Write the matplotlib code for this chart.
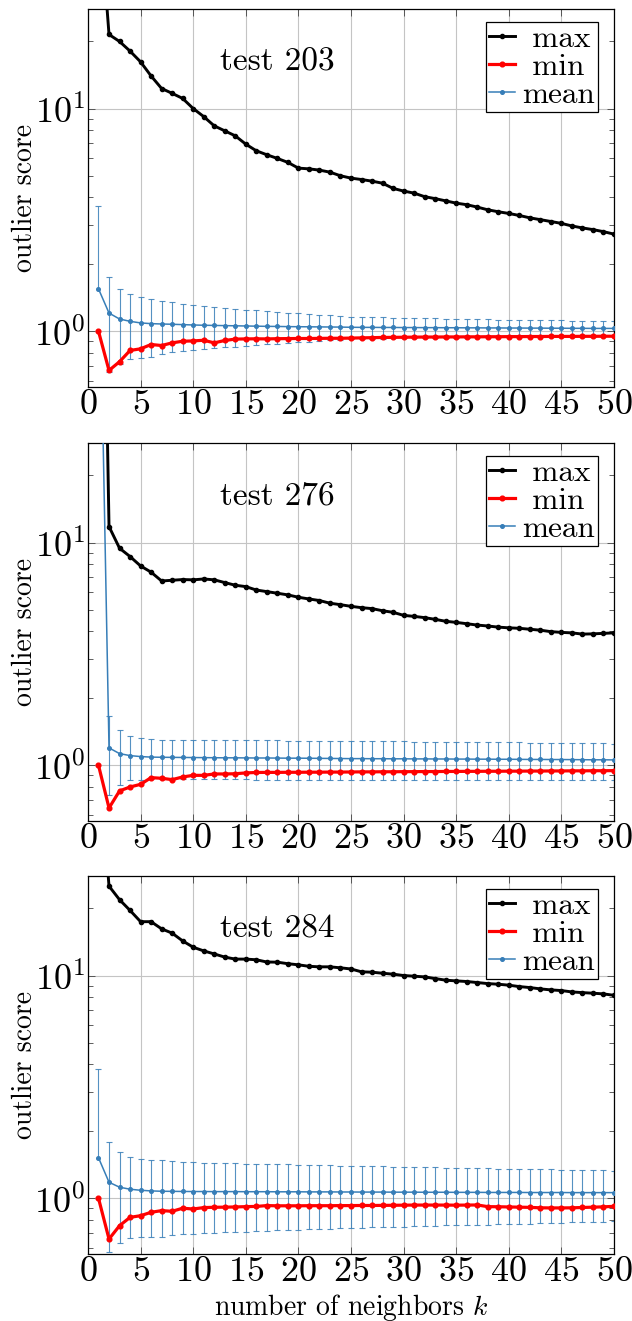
import numpy as np
import matplotlib
matplotlib.use('Agg')
import matplotlib.pyplot as plt
from matplotlib.ticker import MultipleLocator, NullFormatter
from matplotlib.lines import Line2D

plt.rcParams['font.family'] = ['cmr10', 'DejaVu Serif']
plt.rcParams['mathtext.fontset'] = 'cm'
plt.rcParams['axes.formatter.use_mathtext'] = True

# numero de vecinos k
k = np.arange(1, 51)
titulos = ['test 203', 'test 276', 'test 284']

# test 203
max_203 = [90, 21.5, 20.0, 18.1, 16.2, 14.0, 12.3, 11.7, 11.1, 10.0,
           9.2, 8.36, 7.94, 7.54, 6.92, 6.46, 6.2, 5.97, 5.73, 5.40,
           5.36, 5.29, 5.18, 4.99, 4.87, 4.80, 4.72, 4.62, 4.38, 4.26,
           4.17, 4.02, 3.94, 3.85, 3.76, 3.70, 3.61, 3.51, 3.44, 3.38,
           3.31, 3.23, 3.17, 3.11, 3.05, 2.97, 2.91, 2.86, 2.80, 2.73]
min_203 = [1.0, 0.667, 0.730, 0.820, 0.834, 0.872, 0.863, 0.887, 0.902, 0.905,
           0.911, 0.887, 0.909, 0.922, 0.924, 0.925, 0.924, 0.926, 0.927, 0.928,
           0.928, 0.929, 0.930, 0.930, 0.932, 0.934, 0.936, 0.938, 0.939, 0.940,
           0.941, 0.942, 0.942, 0.943, 0.943, 0.944, 0.944, 0.945, 0.945, 0.946,
           0.946, 0.947, 0.947, 0.948, 0.948, 0.948, 0.949, 0.949, 0.950, 0.950]
mean_203 = [1.55, 1.207, 1.135, 1.108, 1.09, 1.082, 1.078, 1.075, 1.071, 1.067,
            1.064, 1.062, 1.060, 1.058, 1.056, 1.054, 1.052, 1.051, 1.049, 1.048,
            1.047, 1.046, 1.045, 1.044, 1.042, 1.041, 1.041, 1.040, 1.040, 1.039,
            1.039, 1.038, 1.038, 1.037, 1.037, 1.036, 1.036, 1.035, 1.035, 1.034,
            1.034, 1.033, 1.033, 1.032, 1.032, 1.031, 1.031, 1.030, 1.030, 1.030]
std_203 = [2.09, 0.553, 0.42, 0.36, 0.33, 0.317, 0.288, 0.272, 0.258, 0.244,
           0.235, 0.225, 0.214, 0.204, 0.196, 0.186, 0.176, 0.170, 0.163, 0.155,
           0.149, 0.142, 0.135, 0.128, 0.121, 0.117, 0.115, 0.113, 0.111, 0.109,
           0.107, 0.105, 0.104, 0.102, 0.100, 0.099, 0.097, 0.096, 0.094, 0.093,
           0.092, 0.090, 0.089, 0.088, 0.087, 0.085, 0.084, 0.083, 0.082, 0.081]

# test 276
max_276 = [5000, 11.8, 9.43, 8.65, 7.85, 7.36, 6.72, 6.77, 6.82, 6.80,
           6.86, 6.80, 6.61, 6.43, 6.34, 6.12, 6.02, 5.92, 5.82, 5.68,
           5.58, 5.49, 5.34, 5.26, 5.17, 5.10, 5.05, 4.94, 4.86, 4.71,
           4.66, 4.60, 4.52, 4.43, 4.38, 4.32, 4.26, 4.22, 4.17, 4.14,
           4.12, 4.08, 4.04, 3.98, 3.95, 3.93, 3.88, 3.89, 3.91, 3.93]
min_276 = [1.0, 0.643, 0.767, 0.799, 0.821, 0.880, 0.874, 0.862, 0.886, 0.901,
           0.901, 0.914, 0.914, 0.916, 0.924, 0.928, 0.929, 0.929, 0.930, 0.930,
           0.931, 0.931, 0.932, 0.932, 0.933, 0.934, 0.934, 0.935, 0.935, 0.936,
           0.936, 0.937, 0.937, 0.938, 0.938, 0.939, 0.939, 0.940, 0.940, 0.941,
           0.941, 0.942, 0.942, 0.943, 0.943, 0.944, 0.944, 0.945, 0.945, 0.946]
mean_276 = [350, 1.197, 1.128, 1.105, 1.094, 1.088, 1.086, 1.085, 1.084, 1.083,
            1.082, 1.081, 1.080, 1.080, 1.079, 1.078, 1.078, 1.077, 1.076, 1.076,
            1.075, 1.074, 1.073, 1.072, 1.071, 1.071, 1.070, 1.070, 1.069, 1.069,
            1.068, 1.068, 1.067, 1.067, 1.066, 1.066, 1.065, 1.065, 1.064, 1.064,
            1.063, 1.062, 1.062, 1.061, 1.061, 1.060, 1.059, 1.058, 1.058, 1.057]
std_276 = [900, 0.464, 0.309, 0.25, 0.233, 0.223, 0.218, 0.217, 0.217, 0.216,
           0.216, 0.216, 0.215, 0.215, 0.215, 0.215, 0.215, 0.215, 0.215, 0.215,
           0.215, 0.214, 0.214, 0.214, 0.214, 0.213, 0.213, 0.212, 0.212, 0.211,
           0.210, 0.210, 0.209, 0.208, 0.207, 0.207, 0.206, 0.205, 0.204, 0.203,
           0.203, 0.202, 0.201, 0.200, 0.199, 0.198, 0.198, 0.197, 0.196, 0.195]

# test 284
max_284 = [100, 25.2, 21.9, 19.6, 17.45, 17.45, 16.2, 15.5, 14.3, 13.4,
           12.9, 12.5, 12.1, 11.85, 11.85, 11.77, 11.5, 11.48, 11.3, 11.17,
           11.0, 10.94, 10.94, 10.83, 10.7, 10.39, 10.35, 10.24, 10.14, 10.0,
           9.93, 9.86, 9.69, 9.53, 9.46, 9.40, 9.30, 9.20, 9.14, 9.05,
           8.92, 8.83, 8.71, 8.62, 8.56, 8.44, 8.38, 8.33, 8.27, 8.15]
min_284 = [1.0, 0.656, 0.753, 0.821, 0.835, 0.865, 0.880, 0.874, 0.902, 0.895,
           0.908, 0.911, 0.912, 0.914, 0.917, 0.919, 0.927, 0.925, 0.925, 0.925,
           0.926, 0.926, 0.926, 0.927, 0.927, 0.928, 0.928, 0.929, 0.930, 0.931,
           0.932, 0.932, 0.932, 0.932, 0.931, 0.932, 0.933, 0.917, 0.916, 0.914,
           0.912, 0.910, 0.906, 0.905, 0.905, 0.906, 0.909, 0.912, 0.915, 0.920]
mean_284 = [1.52, 1.18, 1.121, 1.098, 1.086, 1.079, 1.075, 1.074, 1.073, 1.072,
            1.072, 1.071, 1.071, 1.071, 1.070, 1.070, 1.070, 1.069, 1.069, 1.069,
            1.068, 1.068, 1.068, 1.067, 1.067, 1.066, 1.066, 1.066, 1.065, 1.065,
            1.065, 1.064, 1.064, 1.064, 1.063, 1.063, 1.063, 1.062, 1.062, 1.062,
            1.062, 1.061, 1.061, 1.061, 1.061, 1.060, 1.060, 1.060, 1.060, 1.060]
std_284 = [2.28, 0.608, 0.49, 0.432, 0.417, 0.409, 0.403, 0.392, 0.382, 0.378,
           0.374, 0.370, 0.367, 0.364, 0.361, 0.358, 0.355, 0.352, 0.349, 0.346,
           0.343, 0.340, 0.337, 0.334, 0.330, 0.328, 0.326, 0.323, 0.321, 0.319,
           0.316, 0.314, 0.312, 0.309, 0.307, 0.305, 0.302, 0.300, 0.298, 0.295,
           0.293, 0.291, 0.288, 0.286, 0.284, 0.281, 0.279, 0.277, 0.275, 0.272]

datos = [(max_203, min_203, mean_203, std_203),
         (max_276, min_276, mean_276, std_276),
         (max_284, min_284, mean_284, std_284)]

azul = '#377eb8'
rojo = '#ff0000'

fig = plt.figure(figsize=(6.32, 13.21), dpi=100)
abajos = [0.70704, 0.37850, 0.05072]

for i, (titulo, (mx, mn, me, sd)) in enumerate(zip(titulos, datos)):
    ax = fig.add_axes([0.1392, abajos[i], 0.8323, 0.2862])
    mx = np.array(mx); mn = np.array(mn); me = np.array(me); sd = np.array(sd)

    # la barra de abajo solo se dibuja si mean - std es positivo (escala log)
    ok = (me - sd) > 0
    err_abajo = np.where(ok, sd, 0.0)
    ax.errorbar(k, me, yerr=[err_abajo, sd], fmt='none', ecolor=azul,
                elinewidth=0.8, capsize=0, alpha=0.85, zorder=2)
    ax.plot(k, me + sd, '_', color=azul, ms=5.0, mew=0.8, alpha=0.85, zorder=2)
    ax.plot(k[ok], (me - sd)[ok], '_', color=azul, ms=5.0, mew=0.8, alpha=0.85, zorder=2)

    ax.plot(k, me, '-o', color=azul, lw=1.1, ms=2.6, zorder=3)
    ax.plot(k, mn, '-o', color=rojo, lw=2.3, ms=3.4, zorder=4)
    ax.plot(k, mx, '-o', color='black', lw=2.1, ms=3.0, zorder=5)

    ax.set_yscale('log')
    ax.set_xlim(0, 50)
    ax.set_ylim(0.562, 28)
    ax.xaxis.set_major_locator(MultipleLocator(5))
    ax.yaxis.set_minor_formatter(NullFormatter())
    ax.grid(True, which='major', color='#c4c4c4', lw=0.8)
    ax.set_axisbelow(True)
    ax.tick_params(which='both', direction='in', top=True, right=True,
                   labelsize=26, pad=2, width=0.6, color='#444444')
    ax.tick_params(which='major', length=5)
    ax.tick_params(which='minor', length=3.5)
    for s in ax.spines.values():
        s.set_linewidth(0.9)
        s.set_color('black')

    ax.set_ylabel('outlier score', fontsize=20)
    ax.yaxis.set_label_coords(-0.095, 0.5)
    ax.text(0.36, 0.86, titulo, transform=ax.transAxes, fontsize=24,
            ha='center', va='center')

    handles = [Line2D([], [], color='black', lw=2.1, marker='o', ms=3.0),
               Line2D([], [], color=rojo, lw=2.3, marker='o', ms=3.4),
               Line2D([], [], color=azul, lw=1.1, marker='o', ms=2.6)]
    leg = ax.legend(handles, [' max', ' min', 'mean'], loc='upper right',
                    bbox_to_anchor=(0.969, 0.966), borderaxespad=0,
                    fontsize=22.5, frameon=True, fancybox=False, framealpha=1,
                    edgecolor='black', labelspacing=0.0, borderpad=0.1,
                    handlelength=0.85, handletextpad=0.2)
    leg.get_frame().set_linewidth(0.9)

    if i == 2:
        ax.set_xlabel('number of neighbors $k$', fontsize=20)
        ax.xaxis.set_label_coords(0.5, -0.10)

fig.savefig('out.png', dpi=100)
